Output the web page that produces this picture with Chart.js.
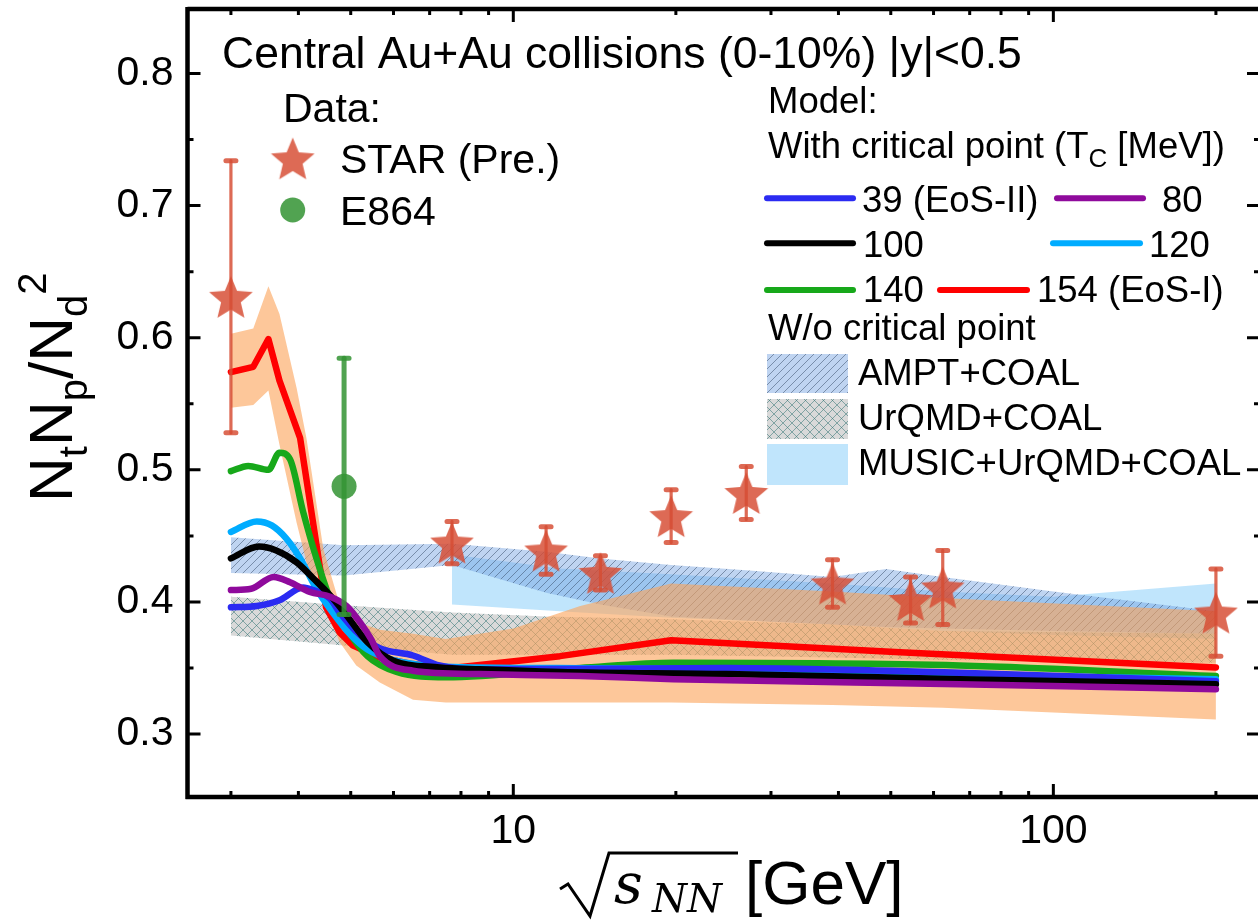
<!DOCTYPE html>
<html><head><meta charset="utf-8">
<script src="https://cdn.jsdelivr.net/npm/chart.js@4/dist/chart.umd.min.js"></script>
<style>html,body{margin:0;padding:0;background:#fff}</style>
</head><body>
<canvas id="c" width="1258" height="920"></canvas>
<script>
// ---------------- data ----------------
const xTickMajor = [10, 100];
const xTickMinor = [3, 4, 5, 6, 7, 8, 9, 20, 30, 40, 50, 60, 70, 80, 90, 200];
const yTickMajor = [0.3, 0.4, 0.5, 0.6, 0.7, 0.8];
const yTickMinor = [0.35, 0.45, 0.55, 0.65, 0.75];

// STAR preliminary
const starEnergy = [3.0, 7.7, 11.5, 14.5, 19.6, 27, 39, 54.4, 62.4, 200];
const starValue  = [0.631, 0.445, 0.439, 0.422, 0.465, 0.4825, 0.414, 0.4015, 0.411, 0.392];
const starError  = [0.103, 0.016, 0.018, 0.013, 0.020, 0.020, 0.018, 0.0175, 0.028, 0.033];
// E864
const e864Energy = [4.86];
const e864Value  = [0.4875];
const e864Error  = [0.097];

// model curves (with critical point)
const tc39E  = [3.0, 3.35, 3.69, 4.08, 4.26, 4.58, 4.77, 5.2, 5.66, 6.52, 7.3, 8.67, 24.8, 67, 200];
const tc39V  = [0.396, 0.397, 0.4013, 0.411, 0.409, 0.4025, 0.392, 0.375, 0.365, 0.3595, 0.352, 0.349, 0.350, 0.3465, 0.340];
const tc80E  = [3.0, 3.27, 3.6, 3.86, 4.2, 4.58, 4.91, 5.2, 5.45, 5.66, 6.52, 8.67, 13.3, 19.8, 67, 200];
const tc80V  = [0.409, 0.410, 0.419, 0.415, 0.4076, 0.404, 0.397, 0.3848, 0.3721, 0.359, 0.348, 0.3454, 0.344, 0.3416, 0.3378, 0.334];
const tc100E = [3.0, 3.38, 3.64, 3.97, 4.26, 4.58, 4.91, 5.37, 6.0, 7.3, 8.67, 12.2, 24.8, 67, 200];
const tc100V = [0.433, 0.442, 0.439, 0.430, 0.418, 0.405, 0.390, 0.3695, 0.3556, 0.3505, 0.349, 0.347, 0.3454, 0.3416, 0.3378];
const tc120E = [3.0, 3.35, 3.57, 3.8, 4.03, 4.32, 4.63, 5.0, 5.37, 6.0, 7.5, 12, 24.8, 67, 200];
const tc120V = [0.453, 0.461, 0.458, 0.448, 0.433, 0.41, 0.392, 0.375, 0.364, 0.356, 0.351, 0.350, 0.349, 0.345, 0.3416];
const tc140E = [3.0, 3.23, 3.52, 3.69, 3.86, 4.08, 4.32, 4.58, 4.91, 5.37, 6.08, 7.5, 13.3, 19.8, 67, 200];
const tc140V = [0.499, 0.503, 0.500, 0.513, 0.508, 0.4685, 0.433, 0.4025, 0.380, 0.359, 0.347, 0.343, 0.350, 0.354, 0.352, 0.344];
const tc154E = [3.0, 3.3, 3.52, 3.69, 4.03, 4.5, 4.77, 5.05, 5.66, 6.5, 7.7, 12.2, 19.6, 52, 200];
const tc154V = [0.574, 0.578, 0.599, 0.5675, 0.524, 0.396, 0.377, 0.367, 0.358, 0.353, 0.350, 0.359, 0.371, 0.362, 0.3505];

// uncertainty band of EoS-I
const eos1BandE   = [3.0, 3.3, 3.52, 3.69, 3.97, 4.14, 4.45, 4.77, 5.12, 5.66, 6.52, 7.5, 10, 13.3, 19.6, 39, 62.4, 200];
const eos1BandTop = [0.603, 0.607, 0.639, 0.618, 0.562, 0.524, 0.44, 0.398, 0.385, 0.379, 0.376, 0.372, 0.380, 0.397, 0.414, 0.408, 0.403, 0.393];
const eos1BandBot = [0.547, 0.549, 0.56, 0.519, 0.46, 0.43, 0.40, 0.3695, 0.352, 0.339, 0.326, 0.324, 0.324, 0.324, 0.324, 0.322, 0.320, 0.311];

// without critical point
const amptE   = [3.0, 4.86, 7.7, 11.5, 14.5, 19.6, 27, 39, 49, 62.4, 100, 200];
const amptTop = [0.449, 0.443, 0.444, 0.438, 0.433, 0.428, 0.424, 0.419, 0.425, 0.419, 0.408, 0.393];
const amptBot = [0.422, 0.420, 0.428, 0.407, 0.398, 0.389, 0.386, 0.383, 0.381, 0.380, 0.378, 0.376];
const urqmdE   = [3.0, 4.86, 7.7, 11.5, 19.6, 39, 62.4, 200];
const urqmdTop = [0.404, 0.3975, 0.392, 0.389, 0.387, 0.383, 0.378, 0.376];
const urqmdBot = [0.3746, 0.367, 0.360, 0.360, 0.360, 0.358, 0.356, 0.354];
const musicE   = [7.7, 12.2, 19.6, 39, 62.4, 100, 200];
const musicTop = [0.436, 0.4254, 0.421, 0.414, 0.408, 0.404, 0.414];
const musicBot = [0.398, 0.393, 0.388, 0.383, 0.378, 0.375, 0.372];

// ---------------- styles ----------------
const SANS = '"Liberation Sans", Arial, sans-serif';
const C = {
  tc39: '#2b2bf2', tc80: '#8f0a9c', tc100: '#000000', tc120: '#00acff', tc140: '#17a81a', tc154: '#ff0000',
  star: 'rgba(214,78,52,0.84)', e864: 'rgba(52,148,52,0.86)',
  orange: 'rgba(251,165,92,0.62)', music: 'rgba(140,208,250,0.55)'
};
const cv = document.getElementById('c');
const baseCtx = cv.getContext('2d');

function makePattern(bg, ink, size, kinds) {
  const t = document.createElement('canvas');
  t.width = size; t.height = size;
  const g = t.getContext('2d');
  g.fillStyle = bg; g.fillRect(0, 0, size, size);
  g.strokeStyle = ink; g.lineWidth = 1;
  g.beginPath();
  if (kinds.includes('/')) {
    g.moveTo(-1, size + 1); g.lineTo(size + 1, -1);
    g.moveTo(-1, 1); g.lineTo(1, -1);
    g.moveTo(size - 1, size + 1); g.lineTo(size + 1, size - 1);
  }
  if (kinds.includes('\\')) {
    g.moveTo(-1, -1); g.lineTo(size + 1, size + 1);
    g.moveTo(size - 1, -1); g.lineTo(size + 1, 1);
    g.moveTo(-1, size - 1); g.lineTo(1, size + 1);
  }
  g.stroke();
  return baseCtx.createPattern(t, 'repeat');
}
const amptPattern  = makePattern('rgba(112,160,224,0.45)', 'rgba(50,70,100,0.5)', 8, '/');
const urqmdPattern = makePattern('rgba(160,160,160,0.4)', 'rgba(40,110,110,0.5)', 9, '/\\');

function makeStar(R, color) {
  const s = Math.ceil(R * 2 + 4);
  const t = document.createElement('canvas'); t.width = s; t.height = s;
  const g = t.getContext('2d');
  const cx = s / 2, cy = s / 2 + R * 0.1, r = R * 0.45;
  g.beginPath();
  for (let i = 0; i < 10; i++) {
    const rad = i % 2 === 0 ? R : r;
    const a = -Math.PI / 2 + i * Math.PI / 5;
    const px = cx + rad * Math.cos(a), py = cy + rad * Math.sin(a);
    i === 0 ? g.moveTo(px, py) : g.lineTo(px, py);
  }
  g.closePath(); g.fillStyle = color; g.fill();
  return t;
}
const starImg = makeStar(23, C.star);

const pts = (E, V) => E.map((e, i) => ({ x: e, y: V[i] }));

const datasets = [];
function addBand(E, top, bot, fillStyle, order) {
  datasets.push({ data: pts(E, top), borderWidth: 0, borderColor: 'rgba(0,0,0,0)', pointRadius: 0,
                  fill: '+1', backgroundColor: fillStyle, order, tension: 0 });
  datasets.push({ data: pts(E, bot), borderWidth: 0, borderColor: 'rgba(0,0,0,0)', pointRadius: 0,
                  fill: false, order, tension: 0 });
}
function addCurve(E, V, color, order, smooth) {
  datasets.push({ data: pts(E, V), borderColor: color, borderWidth: 6.5, pointRadius: 0, fill: false,
                  order, borderCapStyle: 'round', borderJoinStyle: 'round',
                  cubicInterpolationMode: smooth ? 'monotone' : 'default', tension: smooth ? 0.4 : 0 });
}
addBand(musicE, musicTop, musicBot, C.music, 40);
addBand(amptE, amptTop, amptBot, amptPattern, 30);
addBand(urqmdE, urqmdTop, urqmdBot, urqmdPattern, 20);
addBand(eos1BandE, eos1BandTop, eos1BandBot, C.orange, 15);
addCurve(tc154E, tc154V, C.tc154, 10, false);
addCurve(tc140E, tc140V, C.tc140, 9, true);
addCurve(tc120E, tc120V, C.tc120, 8, true);
addCurve(tc39E,  tc39V,  C.tc39, 7, true);
addCurve(tc100E, tc100V, C.tc100, 6, true);
addCurve(tc80E,  tc80V,  C.tc80, 5, true);
datasets.push({ data: pts(e864Energy, e864Value), showLine: false, pointStyle: 'circle', pointRadius: 12.5,
                backgroundColor: C.e864, borderWidth: 0, order: 2, errors: e864Error, errColor: C.e864, errWidth: 5 });
datasets.push({ data: pts(starEnergy, starValue), showLine: false, pointStyle: starImg, pointRadius: 20,
                order: 1, errors: starError, errColor: C.star, errWidth: 3.2 });

// ---------------- plugins ----------------
const errorBars = {
  id: 'errorBars',
  beforeDatasetDraw(chart, args) {
    const d = chart.data.datasets[args.index];
    if (!d.errors) return;
    const ctx = chart.ctx, xs = chart.scales.x, ys = chart.scales.y;
    ctx.save();
    ctx.strokeStyle = d.errColor; ctx.lineCap = 'round';
    d.data.forEach((p, i) => {
      const px = xs.getPixelForValue(p.x);
      const yt = ys.getPixelForValue(p.y + d.errors[i]);
      const yb = ys.getPixelForValue(p.y - d.errors[i]);
      ctx.lineWidth = d.errWidth;
      ctx.beginPath(); ctx.moveTo(px, yt); ctx.lineTo(px, yb); ctx.stroke();
      ctx.lineWidth = 5;
      ctx.beginPath(); ctx.moveTo(px - 5, yt); ctx.lineTo(px + 5, yt);
      ctx.moveTo(px - 5, yb); ctx.lineTo(px + 5, yb); ctx.stroke();
    });
    ctx.restore();
  }
};

const frame = {
  id: 'frame',
  afterDraw(chart) {
    const ctx = chart.ctx, a = chart.chartArea, xs = chart.scales.x, ys = chart.scales.y;
    ctx.save();
    ctx.strokeStyle = '#000'; ctx.lineCap = 'butt';
    ctx.lineWidth = 4.5;
    ctx.beginPath();
    ctx.moveTo(a.left, a.top); ctx.lineTo(a.right + 5, a.top);
    ctx.moveTo(a.left, a.top - 2); ctx.lineTo(a.left, a.bottom + 2);
    ctx.moveTo(a.left - 2, a.bottom); ctx.lineTo(a.right + 5, a.bottom);
    ctx.stroke();
    ctx.lineWidth = 3;
    ctx.beginPath();
    const tick = (vals, len, isX) => vals.forEach(v => {
      if (isX) {
        const px = xs.getPixelForValue(v);
        ctx.moveTo(px, a.bottom); ctx.lineTo(px, a.bottom - len);
        ctx.moveTo(px, a.top); ctx.lineTo(px, a.top + len);
      } else {
        const py = ys.getPixelForValue(v);
        ctx.moveTo(a.left, py); ctx.lineTo(a.left + len, py);
        ctx.moveTo(a.right + 2, py); ctx.lineTo(a.right + 2 - len, py);
      }
    });
    tick(xTickMajor, 13, true); tick(xTickMinor, 6, true);
    tick(yTickMajor, 13, false); tick(yTickMinor, 6, false);
    ctx.stroke();
    ctx.restore();
  }
};

function txt(ctx, s, x, y, font) { ctx.font = font; ctx.fillText(s, x, y); return ctx.measureText(s).width; }

const annotations = {
  id: 'annotations',
  afterDraw(chart) {
    const ctx = chart.ctx;
    ctx.save();
    ctx.fillStyle = '#000'; ctx.textBaseline = 'alphabetic'; ctx.textAlign = 'left';
    // header and data legend
    txt(ctx, 'Central Au+Au collisions (0-10%) |y|<0.5', 222, 68, '44.5px ' + SANS);
    const FL = '41px ' + SANS;
    txt(ctx, 'Data:', 283, 122, FL);
    ctx.drawImage(starImg, 292.7 - starImg.width / 2, 158.3 - starImg.height / 2);
    txt(ctx, 'STAR (Pre.)', 340, 173, FL);
    ctx.beginPath(); ctx.arc(292.7, 210, 12.5, 0, Math.PI * 2); ctx.fillStyle = C.e864; ctx.fill();
    ctx.fillStyle = '#000';
    txt(ctx, 'E864', 340, 225, FL);

    // model legend
    const FR = '36.5px ' + SANS;
    txt(ctx, 'Model:', 768, 113, FR);
    let w = txt(ctx, 'With critical point (T', 768, 158, FR);
    let w2 = txt(ctx, 'C', 768 + w, 167, '26px ' + SANS);
    txt(ctx, ' [MeV])', 768 + w + w2, 158, FR);
    const seg = (x1, x2, y, col) => {
      ctx.save(); ctx.strokeStyle = col; ctx.lineWidth = 6; ctx.lineCap = 'round';
      ctx.beginPath(); ctx.moveTo(x1, y); ctx.lineTo(x2, y); ctx.stroke(); ctx.restore();
    };
    seg(767, 853, 198.3, C.tc39);   txt(ctx, '39 (EoS-II)', 862, 212, FR);
    seg(1057, 1143, 198.3, C.tc80); txt(ctx, '80', 1162, 212, FR);
    seg(767, 853, 243.3, C.tc100);  txt(ctx, '100', 863, 257, FR);
    seg(1053, 1140, 243.3, C.tc120); txt(ctx, '120', 1149, 257, FR);
    seg(767, 853, 290, C.tc140);    txt(ctx, '140', 863, 302, FR);
    seg(940, 1027, 290, C.tc154);   txt(ctx, '154 (EoS-I)', 1037, 302, FR);
    txt(ctx, 'W/o critical point', 768, 340, FR);
    const box = (y1, y2, fill) => { ctx.save(); ctx.fillStyle = '#fff'; ctx.fillRect(767, y1, 81, y2 - y1);
      ctx.fillStyle = fill; ctx.fillRect(767, y1, 81, y2 - y1); ctx.restore(); };
    box(354, 393, amptPattern);  txt(ctx, 'AMPT+COAL', 858, 385, FR);
    box(399, 439, urqmdPattern); txt(ctx, 'UrQMD+COAL', 858, 430, FR);
    box(444, 485, C.music);      txt(ctx, 'MUSIC+UrQMD+COAL', 858, 475, FR);

    // y-axis title
    ctx.save();
    ctx.translate(72, 502); ctx.rotate(-Math.PI / 2);
    const big = '62px ' + SANS, small = '40px ' + SANS;
    let x = 0;
    [['N', big, 0], ['t', small, 15], ['N', big, 0], ['p', small, 15], ['/N', big, 0], ['d', small, 15], ['2', small, -26]]
      .forEach(([s, f, dy]) => { x += txt(ctx, s, x, dy, f); });
    ctx.restore();

    // x-axis title: sqrt(s_NN) [GeV]
    ctx.save();
    ctx.strokeStyle = '#000'; ctx.lineWidth = 3; ctx.lineJoin = 'miter';
    ctx.beginPath();
    ctx.moveTo(560, 889); ctx.lineTo(568, 884); ctx.lineTo(590, 916); ctx.lineTo(609, 853); ctx.lineTo(738, 853);
    ctx.stroke();
    ctx.restore();
    txt(ctx, 's', 614, 903, 'italic 56px "DejaVu Serif", serif');
    txt(ctx, 'NN', 652, 912, 'italic 40px "DejaVu Serif", serif');
    txt(ctx, '[GeV]', 745, 904, '62px ' + SANS);
    ctx.restore();
  }
};

new Chart(cv, {
  type: 'line',
  data: { datasets },
  options: {
    responsive: false, animation: false, events: [],
    layout: { autoPadding: false, padding: { top: 9, right: 0, left: 0, bottom: 0 } },
    plugins: { legend: { display: false }, tooltip: { enabled: false }, filler: { propagate: false } },
    scales: {
      x: {
        type: 'logarithmic', min: 2.493, max: 239.3,
        afterFit: s => { s.height = 123; s.paddingLeft = 0; s.paddingRight = 0; s.paddingTop = 0; s.paddingBottom = 0; },
        afterBuildTicks: s => { s.ticks = xTickMajor.map(v => ({ value: v })); },
        grid: { display: false, drawTicks: false }, border: { display: false },
        ticks: { padding: 10, color: '#000', font: { size: 41, family: SANS }, maxRotation: 0, autoSkip: false,
                 callback: v => String(v) }
      },
      y: {
        type: 'linear', min: 0.2524, max: 0.8488,
        afterFit: s => { s.width = 187.5; s.paddingTop = 0; s.paddingBottom = 0; s.paddingLeft = 0; s.paddingRight = 0; },
        afterBuildTicks: s => { s.ticks = yTickMajor.map(v => ({ value: v })); },
        grid: { display: false, drawTicks: false }, border: { display: false },
        ticks: { padding: 14, color: '#000', font: { size: 41, family: SANS }, callback: v => v.toFixed(1) }
      }
    }
  },
  plugins: [errorBars, frame, annotations]
});
</script>
</body></html>
